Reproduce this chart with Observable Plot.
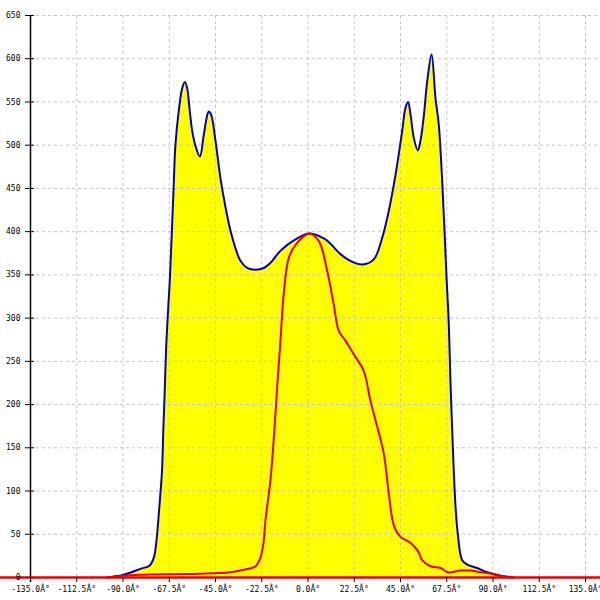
<!DOCTYPE html>
<html>
<head>
<meta charset="utf-8">
<script src="https://cdn.jsdelivr.net/npm/d3@7"></script>
<script src="https://cdn.jsdelivr.net/npm/@observablehq/plot@0.6"></script>
<style>
  html, body { margin: 0; padding: 0; background: #fff; }
</style>
</head>
<body>
<div id="chart"></div>
<script>
// Angles (degrees) and intensities of the outer (blue / yellow filled) profile
const blueAngles = [-98, -95, -90, -86, -81.5, -77, -75, -73.7, -72.6, -71.8, -71, -70.4, -69.8, -69, -68, -67.2, -65.4, -64.5, -62.9, -61.2, -59.9, -58.8, -57.5, -56.3, -54.7, -52.6, -50.7, -49.0, -48.3, -47.1, -45, -42.6, -40.1, -37.7, -35.3, -32.8, -29.6, -25.5, -21.5, -18.2, -13.4, -6.1, 0.7, 8.5, 15.8, 21.6, 26.4, 32, 36.1, 39.3, 42.6, 45.8, 47.4, 48.7, 49.9, 51.5, 53.4, 54.7, 56.4, 58, 60.1, 62, 63.6, 65.3, 67.4, 68.5, 69.3, 70.1, 70.9, 71.8, 72.9, 75, 77.5, 82.3, 87.2, 93.6, 100];
const blueValues = [0, 1, 3, 6, 10, 14, 23, 43, 73, 97, 124, 170, 208, 266, 312, 345, 450, 500, 539, 566, 573, 566, 539, 516, 499, 487, 512, 535, 539, 535, 505, 462, 428, 401, 381, 366, 358, 356, 358, 364, 378, 391, 398, 391, 374, 365, 362, 368, 393, 424, 466, 516, 543, 550, 535, 508, 494, 505, 535, 574, 605, 555, 524, 458, 347, 293, 227, 174, 124, 81, 50, 20, 15, 11, 6, 2, 0];

// Angles (degrees) and intensities of the inner (red) profile
const redAngles = [-97, -90, -76.6, -60, -45.8, -37.7, -31.2, -25.5, -23.1, -22.3, -21.5, -20.7, -18.3, -16.6, -15, -13.4, -11.8, -9.3, -5.3, 0.7, 5.3, 9.3, 12.5, 15, 18.2, 22.3, 27.1, 30.4, 33.7, 36.9, 39.3, 41.8, 45, 49.9, 53.9, 55.5, 59.6, 64.5, 68, 74.2, 79, 83.9, 90.4, 93.6, 100];
const redValues = [0, 2, 3.5, 4, 5, 6, 9, 13, 23, 31, 43, 66, 112, 162, 220, 274, 328, 370, 387, 398, 389, 355, 316, 285, 274, 258, 239, 204, 174, 143, 97, 60, 47, 40, 29, 20, 13, 11, 6, 8, 8, 6, 4, 2, 0];

// Tick values
const xTicks = [-135, -112.5, -90, -67.5, -45, -22.5, 0, 22.5, 45, 67.5, 90, 112.5, 135];
const yTicks = [0, 50, 100, 150, 200, 250, 300, 350, 400, 450, 500, 550, 600, 650];

const blue = blueAngles.map((a, i) => ({a, v: blueValues[i]}));
const red = redAngles.map((a, i) => ({a, v: redValues[i]}));

const gridStyle = {stroke: "#c4c4c4", strokeOpacity: 1, strokeDasharray: "3,3", strokeWidth: 1};

const chart = Plot.plot({
  width: 600,
  height: 600,
  marginLeft: 30,
  marginRight: 15,
  marginTop: 15,
  marginBottom: 23,
  x: {domain: [-135, 135]},
  y: {domain: [0, 650]},
  style: {fontFamily: "'DejaVu Sans Mono', monospace", fontSize: "8px", background: "#fff", color: "#000"},
  marks: [
    Plot.areaY(blue, {x: "a", y: "v", fill: "#ffff00", curve: "catmull-rom"}),
    Plot.gridX(xTicks, gridStyle),
    Plot.gridY(yTicks, {...gridStyle, insetRight: -15}),
    Plot.lineY(blue, {x: "a", y: "v", stroke: "#0000c0", strokeWidth: 2, curve: "catmull-rom"}),
    Plot.ruleX([-135], {stroke: "#000", strokeWidth: 1.5, insetBottom: -5}),
    Plot.lineY(red, {x: "a", y: "v", stroke: "#e80000", strokeWidth: 2, curve: "catmull-rom"}),
    Plot.ruleY([0], {stroke: "#e80000", strokeWidth: 2.5, insetLeft: -30, insetRight: -15}),
    Plot.axisX(xTicks, {tickSize: 5, tickPadding: 4, stroke: "#000", tickFormat: d => d.toFixed(1) + "Â°", label: null}),
    Plot.axisY(yTicks, {tickSize: 9, dx: 4, tickPadding: 5, stroke: "#000", tickFormat: d => String(d), label: null})
  ]
});

document.getElementById("chart").appendChild(chart);
</script>
</body>
</html>
